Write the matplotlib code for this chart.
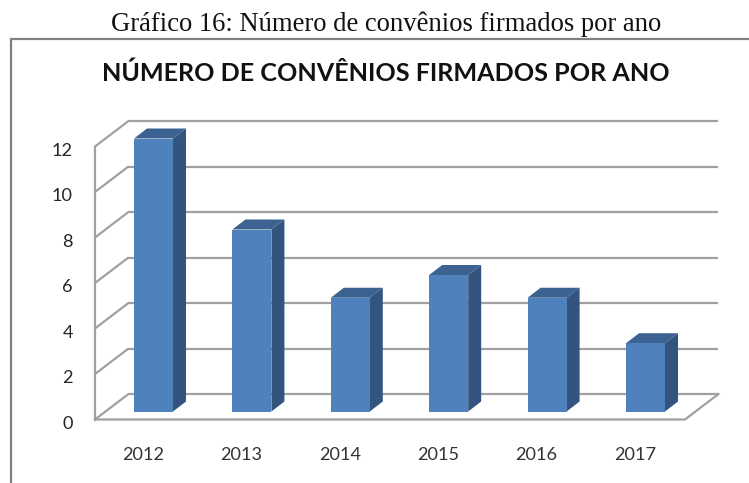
import matplotlib
matplotlib.use("Agg")
import matplotlib.pyplot as plt
from matplotlib.patches import Polygon

years = ["2012", "2013", "2014", "2015", "2016", "2017"]
convenios = [12, 8, 5, 6, 5, 3]
y_ticks = [0, 2, 4, 6, 8, 10, 12]
caption = "Gráfico 16: Número de convênios firmados por ano"
title = "NÚMERO DE CONVÊNIOS FIRMADOS POR ANO"

W, H = 749, 483
X0, XU = 143.0, 98.4
Y0, YU = 419.5, 22.75

fig = plt.figure(figsize=(W / 100, H / 100), dpi=100, facecolor="white")
ax = fig.add_axes([0, 0, 1, 1])
ax.set_xlim((0 - X0) / XU, (W - X0) / XU)
ax.set_ylim((Y0 - H) / YU, Y0 / YU)
ax.axis("off")

# pseudo-3D depth expressed in data units
DX, DY = 33.5 / XU, 25.5 / YU
BAR_W = 39.0 / XU
BAR_SHIFT_Y = 8.0 / YU
BAR_DX, BAR_DY = 13.0 / XU, 10.0 / YU
XL, XR = -0.488, 5.508

GRID = "#a0a0a0"
LW = 1.6
for t in y_ticks:
    ax.plot([XL, XL + DX], [t, t + DY], color=GRID, lw=LW, zorder=1, solid_capstyle="butt")
    ax.plot([XL + DX, XR + DX], [t + DY, t + DY], color=GRID, lw=LW, zorder=1, solid_capstyle="butt")
    ax.text(XL - 0.224, t - 0.18, str(t), ha="right", va="center",
            family="Lato", fontsize=13.1, color="#262626", zorder=5)
ax.plot([XL, XL], [0, max(y_ticks)], color=GRID, lw=LW, zorder=1)
ax.plot([XL, XR, XR + DX], [0, 0, DY], color=GRID, lw=LW, zorder=1, solid_joinstyle="miter")

for i, (yr, v) in enumerate(zip(years, convenios)):
    x1 = i + 10.5 / XU - BAR_W / 2
    x2 = x1 + BAR_W
    y1 = BAR_SHIFT_Y
    y2 = y1 + v
    ax.add_patch(Polygon([(x1, y2), (x2, y2), (x2 + BAR_DX, y2 + BAR_DY), (x1 + BAR_DX, y2 + BAR_DY)],
                         closed=True, fc="#3b6291", ec="none", zorder=3))
    ax.add_patch(Polygon([(x2, y1), (x2 + BAR_DX, y1 + BAR_DY), (x2 + BAR_DX, y2 + BAR_DY), (x2, y2)],
                         closed=True, fc="#32547e", ec="none", zorder=3))
    ax.add_patch(Polygon([(x1, y1), (x2, y1), (x2, y2), (x1, y2)],
                         closed=True, fc="#4f81bd", ec="none", zorder=4))
    ax.text(i, -1.57, yr, ha="center", va="center", family="Lato", fontsize=13.1, color="#333333")

# frame and headings, placed in figure fraction
fig.add_artist(plt.Line2D([10.5 / W, 10.5 / W, 1], [0, 1 - 38.5 / H, 1 - 38.5 / H],
                          color="#808080", lw=1.6, solid_joinstyle="miter"))
fig.text(386.5 / W, 1 - 24.5 / H, caption, ha="center", va="center",
         family="Liberation Serif", fontsize=19.2, color="#111111")
fig.text(385.5 / W, 1 - 73 / H, title, ha="center", va="center",
         family="Lato", fontweight="bold", fontsize=18.1, color="#111111")

fig.savefig("out.png", dpi=100, facecolor="white")
